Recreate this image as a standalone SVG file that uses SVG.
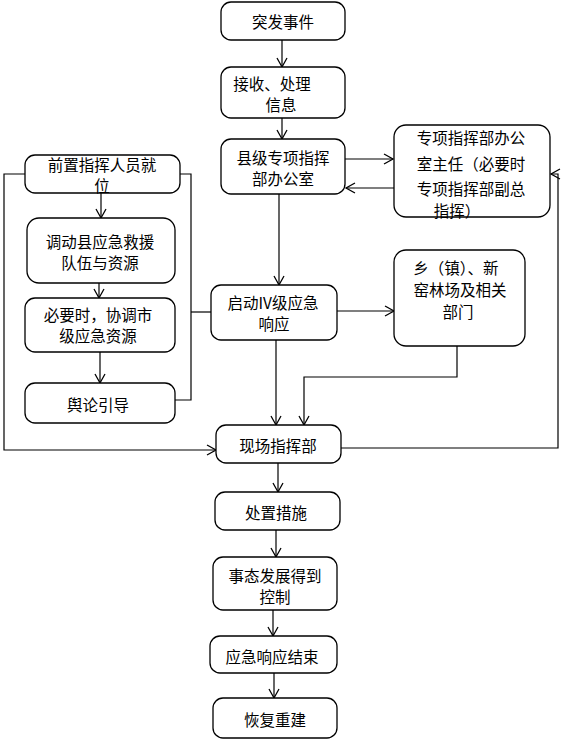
<svg xmlns="http://www.w3.org/2000/svg" width="561" height="740" viewBox="0 0 561 740">
<style>
.n rect{fill:#fff;stroke:#000;stroke-width:1.3}
text{font-family:"Noto Sans CJK SC","Noto Sans",sans-serif;font-size:15.5px;fill:#000;text-anchor:middle;dominant-baseline:central}
.c path{fill:none;stroke:#000;stroke-width:1.2}
</style>
<defs>
<marker id="a" markerWidth="12" markerHeight="12" refX="10" refY="6" orient="auto" markerUnits="userSpaceOnUse">
<path d="M1,1 L10,6 L1,11" fill="none" stroke="#000" stroke-width="1.3"/>
</marker>
</defs>
<g class="c">
<path d="M282,40 V67" marker-end="url(#a)"/>
<path d="M282,118 V139" marker-end="url(#a)"/>
<path d="M345,159 H393" marker-end="url(#a)"/>
<path d="M394,188 H346" marker-end="url(#a)"/>
<path d="M279,194 V285" marker-end="url(#a)"/>
<path d="M337,311 H394" marker-end="url(#a)"/>
<path d="M276,340 V425" marker-end="url(#a)"/>
<path d="M457,346 V377 H304 V425" marker-end="url(#a)"/>
<path d="M341,448 H558 V174 H551" marker-end="url(#a)"/>
<path d="M25,174 H4 V450 H216" marker-end="url(#a)"/>
<path d="M180,174 H191 V400 H175"/>
<path d="M191,312 H211"/>
<path d="M101,193 V218" marker-end="url(#a)"/>
<path d="M99,283 V298" marker-end="url(#a)"/>
<path d="M100,352 V383" marker-end="url(#a)"/>
<path d="M278,463 V492" marker-end="url(#a)"/>
<path d="M276,530 V557" marker-end="url(#a)"/>
<path d="M273,610 V636" marker-end="url(#a)"/>
<path d="M274,673 V698" marker-end="url(#a)"/>
</g>
<g class="n" id="n1"><rect x="221" y="2" width="124" height="38" rx="10"/><text x="283" y="21">突发事件</text></g>
<g class="n" id="n2"><rect x="221" y="67" width="124" height="51" rx="10"/><text x="272" y="83">接收、处理</text><text x="281" y="104">信息</text></g>
<g class="n" id="n3"><rect x="221" y="139" width="124" height="55" rx="10"/><text x="283" y="157">县级专项指挥</text><text x="283" y="178">部办公室</text></g>
<g class="n" id="n4"><rect x="394" y="125" width="156" height="92" rx="12"/><text x="471" y="137">专项指挥部办公</text><text x="471" y="163">室主任（必要时</text><text x="471" y="188">专项指挥部副总</text><text x="457" y="210">指挥）</text></g>
<g class="n" id="n5"><rect x="394" y="250" width="131" height="96" rx="12"/><text x="456" y="267">乡（镇）、新</text><text x="460" y="289">窑林场及相关</text><text x="458" y="311">部门</text></g>
<g class="n" id="n6"><rect x="211" y="285" width="126" height="55" rx="10"/><text x="273" y="302">启动IV级应急</text><text x="274" y="323">响应</text></g>
<g class="n" id="n7"><rect x="216" y="425" width="125" height="38" rx="10"/><text x="278" y="445">现场指挥部</text></g>
<g class="n" id="n8"><rect x="25" y="155" width="155" height="38" rx="10"/><text x="102" y="164">前置指挥人员就</text><text x="102" y="185">位</text></g>
<g class="n" id="n9"><rect x="27" y="218" width="148" height="65" rx="12"/><text x="100" y="241">调动县应急救援</text><text x="100" y="262">队伍与资源</text></g>
<g class="n" id="n10"><rect x="25" y="298" width="150" height="54" rx="10"/><text x="98" y="314">必要时，协调市</text><text x="98" y="335">级应急资源</text></g>
<g class="n" id="n11"><rect x="25" y="383" width="150" height="40" rx="10"/><text x="98" y="404">舆论引导</text></g>
<g class="n" id="n12"><rect x="215" y="492" width="125" height="38" rx="10"/><text x="276" y="512">处置措施</text></g>
<g class="n" id="n13"><rect x="213" y="557" width="124" height="53" rx="10"/><text x="275" y="575">事态发展得到</text><text x="275" y="596">控制</text></g>
<g class="n" id="n14"><rect x="210" y="636" width="127" height="37" rx="10"/><text x="272" y="656">应急响应结束</text></g>
<g class="n" id="n15"><rect x="213" y="698" width="124" height="40" rx="10"/><text x="275" y="719">恢复重建</text></g>
</svg>
